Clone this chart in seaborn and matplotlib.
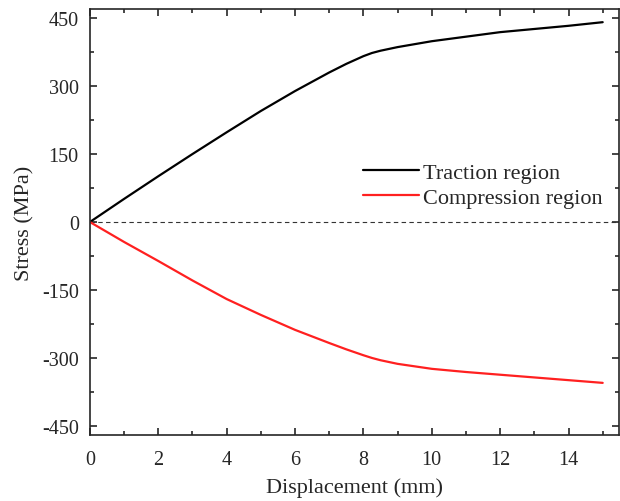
import numpy as np
import pandas as pd
import matplotlib
matplotlib.use("Agg")
import matplotlib.pyplot as plt
from matplotlib.ticker import MultipleLocator
import seaborn as sns

# values
disp = [0, 1, 2, 3, 4, 5, 6, 7, 7.5, 8, 8.25, 8.5, 8.75, 9, 10, 11, 12, 13, 14, 15]
traction = [0, 51, 101, 150, 198, 245, 289, 330, 349, 366, 373, 378, 382, 386, 399, 409, 419, 426, 433, 441]
compression = [0, -44, -86, -129, -170, -205, -238, -267, -281, -294, -300, -305, -309, -313, -324, -331, -337, -343, -349, -355]
labels = ["Traction region", "Compression region"]
colors = ["black", "#ff2020"]

df = pd.concat([
    pd.DataFrame({"disp": disp, "stress": traction, "region": labels[0]}),
    pd.DataFrame({"disp": disp, "stress": compression, "region": labels[1]}),
])

sns.set_style("ticks")
plt.rcParams['font.family'] = ['Liberation Serif', 'DejaVu Serif']
plt.rcParams['axes.unicode_minus'] = False

fig = plt.figure(figsize=(6.2, 5.02), dpi=100)
ax = fig.add_axes([0.145, 0.1315, 0.853, 0.8485])

sns.lineplot(data=df, x="disp", y="stress", hue="region", palette=colors,
             linewidth=1.6, ax=ax, sort=False)
ax.axhline(0, color="#333333", linestyle=(0, (4, 3)), linewidth=0.8, zorder=1)

ax.set_xlim(0, 15.47)
ax.set_ylim(-470, 470)
ax.set_xticks(np.arange(0, 15, 2))
ax.set_yticks(np.arange(-450, 451, 150))
ax.xaxis.set_minor_locator(MultipleLocator(1))
ax.yaxis.set_minor_locator(MultipleLocator(75))
ax.tick_params(which="both", direction="in", top=True, right=True, labelsize=14.5, width=1.2)
ax.tick_params(which="major", length=5)
ax.tick_params(which="minor", length=3)
ax.tick_params(axis="x", pad=11)
ax.tick_params(axis="y", pad=8)
for s in ax.spines.values():
    s.set_linewidth(1.2)

ax.set_xlabel("Displacement (mm)", fontsize=16, labelpad=6)
ax.set_ylabel("Stress (MPa)", fontsize=16, labelpad=5)

ax.legend(title=None, frameon=False, fontsize=16, loc="center left",
          bbox_to_anchor=(0.5, 0.587), handlelength=2.5, handletextpad=0.2,
          borderaxespad=0, labelspacing=0.2)

fig.savefig("out.png", dpi=100)
